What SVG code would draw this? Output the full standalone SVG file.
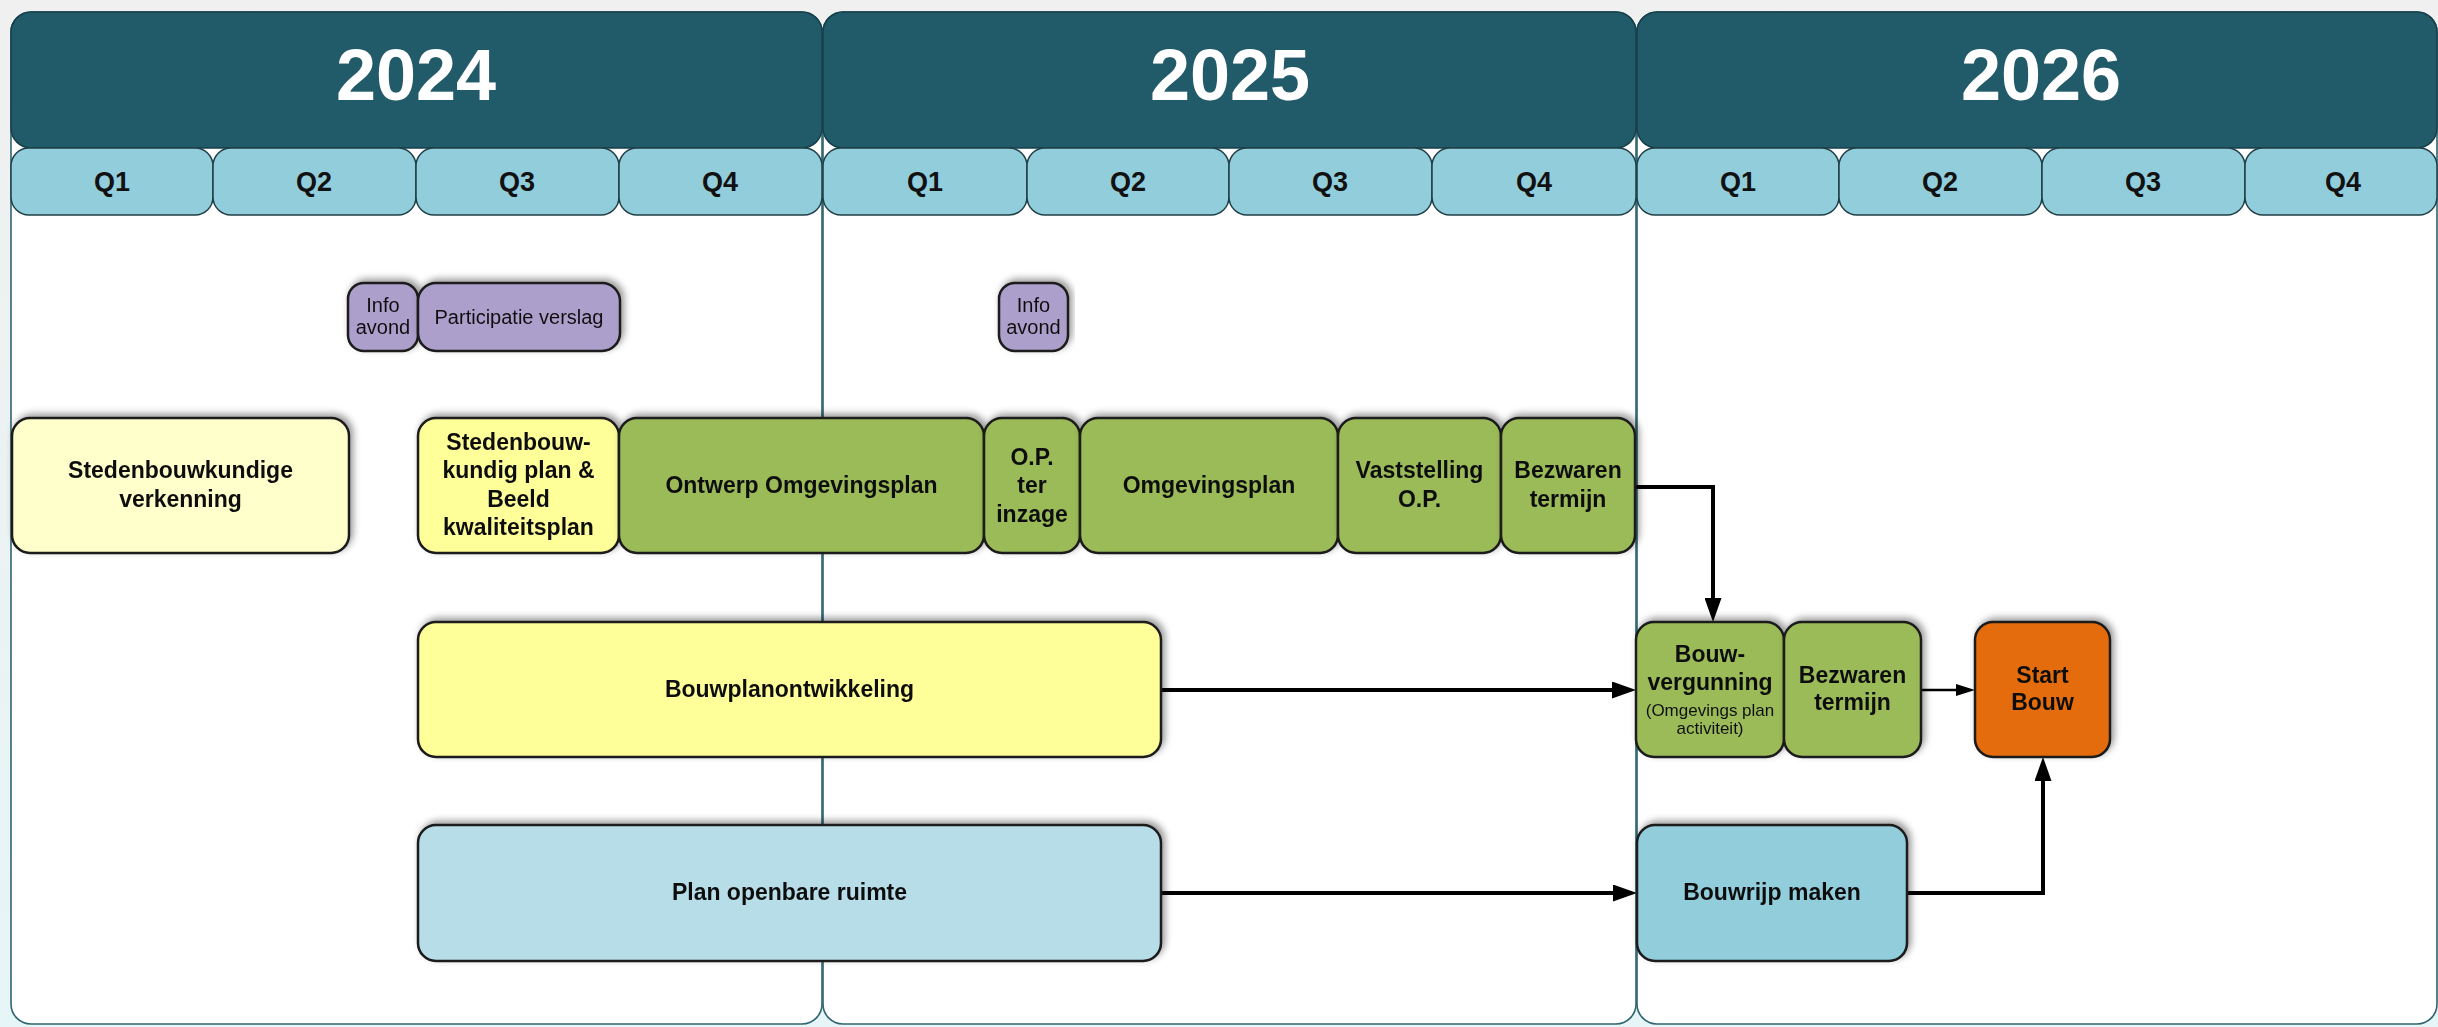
<svg xmlns="http://www.w3.org/2000/svg" width="2438" height="1027" viewBox="0 0 2438 1027">
<defs>
<linearGradient id="bg" x1="0" y1="0" x2="0" y2="1">
<stop offset="0" stop-color="#f0f0f0"/>
<stop offset="1" stop-color="#e6f5f7"/>
</linearGradient>
<filter id="sh" x="-10%" y="-20%" width="120%" height="140%">
<feDropShadow dx="3" dy="-3" stdDeviation="3.5" flood-color="#000" flood-opacity="0.4"/>
</filter>
<marker id="ah" viewBox="0 0 24 17" refX="14" refY="8.5" markerWidth="24" markerHeight="17" markerUnits="userSpaceOnUse" orient="auto">
<path d="M0,0 L24,8.5 L0,17 z" fill="#000"/>
</marker>
<marker id="ahs" viewBox="0 0 19 12" refX="11" refY="6" markerWidth="19" markerHeight="12" markerUnits="userSpaceOnUse" orient="auto">
<path d="M0,0 L19,6 L0,12 z" fill="#000"/>
</marker>
</defs>
<style>
.panel{fill:#ffffff;stroke:#2f6570;stroke-width:1.6}
.year{fill:#215a69;stroke:#163f49;stroke-width:1.5}
.yt{font-family:"Liberation Sans",Arial,sans-serif;font-weight:bold;font-size:72px;fill:#ffffff;text-anchor:middle}
.q{fill:#92cddc;stroke:#1f3f46;stroke-width:1.5}
.qt{font-family:"Liberation Sans",Arial,sans-serif;font-weight:bold;font-size:27px;fill:#111;text-anchor:middle}
.n rect{stroke:#1a1a1a;stroke-width:2.5}
.n{filter:url(#sh)}
.t{font-family:"Liberation Sans",Arial,sans-serif;font-weight:bold;font-size:23px;fill:#111;text-anchor:middle}
.tp{font-family:"Liberation Sans",Arial,sans-serif;font-size:20px;fill:#111;text-anchor:middle}
.ts{font-family:"Liberation Sans",Arial,sans-serif;font-size:17px;fill:#111;text-anchor:middle}
.purple{fill:#ad9fcb}
.green{fill:#9bbb59}
.yel1{fill:#ffffcc}
.yel2{fill:#ffff99}
.blue1{fill:#b7dde8}
.blue2{fill:#92cddc}
.orange{fill:#e46c0a}
.c{fill:none;stroke:#000;stroke-width:4}
.cs{fill:none;stroke:#000;stroke-width:2.5}
</style>
<rect x="0" y="0" width="2438" height="1027" fill="url(#bg)"/>

<g id="timeline">
<rect class="panel" x="11" y="12" width="811" height="1012" rx="20"/>
<rect class="panel" x="823" y="12" width="813" height="1012" rx="20"/>
<rect class="panel" x="1637" y="12" width="800" height="1012" rx="20"/>
<g id="y2024">
<rect class="year" x="11" y="12" width="811" height="136" rx="20"/>
<text class="yt" x="416" y="100">2024</text>
<rect class="q" x="11" y="148" width="202" height="67" rx="18"/>
<rect class="q" x="213" y="148" width="203" height="67" rx="18"/>
<rect class="q" x="416" y="148" width="203" height="67" rx="18"/>
<rect class="q" x="619" y="148" width="203" height="67" rx="18"/>
<text class="qt" x="112" y="191">Q1</text>
<text class="qt" x="314" y="191">Q2</text>
<text class="qt" x="517" y="191">Q3</text>
<text class="qt" x="720" y="191">Q4</text>
</g>
<g id="y2025">
<rect class="year" x="823" y="12" width="813" height="136" rx="20"/>
<text class="yt" x="1230" y="100">2025</text>
<rect class="q" x="823" y="148" width="204" height="67" rx="18"/>
<rect class="q" x="1027" y="148" width="202" height="67" rx="18"/>
<rect class="q" x="1229" y="148" width="203" height="67" rx="18"/>
<rect class="q" x="1432" y="148" width="204" height="67" rx="18"/>
<text class="qt" x="925" y="191">Q1</text>
<text class="qt" x="1128" y="191">Q2</text>
<text class="qt" x="1330" y="191">Q3</text>
<text class="qt" x="1534" y="191">Q4</text>
</g>
<g id="y2026">
<rect class="year" x="1637" y="12" width="800" height="136" rx="20"/>
<text class="yt" x="2041" y="100">2026</text>
<rect class="q" x="1637" y="148" width="202" height="67" rx="18"/>
<rect class="q" x="1839" y="148" width="203" height="67" rx="18"/>
<rect class="q" x="2042" y="148" width="203" height="67" rx="18"/>
<rect class="q" x="2245" y="148" width="192" height="67" rx="18"/>
<text class="qt" x="1738" y="191">Q1</text>
<text class="qt" x="1940" y="191">Q2</text>
<text class="qt" x="2143" y="191">Q3</text>
<text class="qt" x="2343" y="191">Q4</text>
</g>
</g>

<g id="connectors">
<path class="c" d="M1635 487 H1713 V612" marker-end="url(#ah)"/>
<path class="c" d="M1161 690 H1626" marker-end="url(#ah)"/>
<path class="cs" d="M1921 690 H1967" marker-end="url(#ahs)"/>
<path class="c" d="M1161 893 H1627" marker-end="url(#ah)"/>
<path class="c" d="M1907 893 H2043 V767" marker-end="url(#ah)"/>
</g>

<g id="info-avond-1" class="n">
<rect class="purple" x="348" y="283" width="70" height="68" rx="16"/>
<text class="tp" x="383" y="312">Info</text>
<text class="tp" x="383" y="334">avond</text>
</g>
<g id="participatie-verslag" class="n">
<rect class="purple" x="418" y="283" width="202" height="68" rx="18"/>
<text class="tp" x="519" y="324">Participatie verslag</text>
</g>
<g id="info-avond-2" class="n">
<rect class="purple" x="999" y="283" width="69" height="68" rx="16"/>
<text class="tp" x="1033.5" y="312">Info</text>
<text class="tp" x="1033.5" y="334">avond</text>
</g>

<g id="stedenbouwkundige-verkenning" class="n">
<rect class="yel1" x="12" y="418" width="337" height="135" rx="18"/>
<text class="t" x="180.5" y="478">Stedenbouwkundige</text>
<text class="t" x="180.5" y="507">verkenning</text>
</g>
<g id="stedenbouwkundig-plan" class="n">
<rect class="yel2" x="418" y="418" width="201" height="135" rx="18"/>
<text class="t" x="518.5" y="450">Stedenbouw-</text>
<text class="t" x="518.5" y="478">kundig plan &amp;</text>
<text class="t" x="518.5" y="507">Beeld</text>
<text class="t" x="518.5" y="535">kwaliteitsplan</text>
</g>
<g id="ontwerp-omgevingsplan" class="n">
<rect class="green" x="619" y="418" width="365" height="135" rx="18"/>
<text class="t" x="801.5" y="493">Ontwerp Omgevingsplan</text>
</g>
<g id="op-ter-inzage" class="n">
<rect class="green" x="984" y="418" width="96" height="135" rx="18"/>
<text class="t" x="1032" y="465">O.P.</text>
<text class="t" x="1032" y="493">ter</text>
<text class="t" x="1032" y="522">inzage</text>
</g>
<g id="omgevingsplan" class="n">
<rect class="green" x="1080" y="418" width="258" height="135" rx="18"/>
<text class="t" x="1209" y="493">Omgevingsplan</text>
</g>
<g id="vaststelling-op" class="n">
<rect class="green" x="1338" y="418" width="163" height="135" rx="18"/>
<text class="t" x="1419.5" y="478">Vaststelling</text>
<text class="t" x="1419.5" y="507">O.P.</text>
</g>
<g id="bezwaren-termijn-1" class="n">
<rect class="green" x="1501" y="418" width="134" height="135" rx="18"/>
<text class="t" x="1568" y="478">Bezwaren</text>
<text class="t" x="1568" y="507">termijn</text>
</g>

<g id="bouwplanontwikkeling" class="n">
<rect class="yel2" x="418" y="622" width="743" height="135" rx="18"/>
<text class="t" x="789.5" y="697">Bouwplanontwikkeling</text>
</g>
<g id="bouwvergunning" class="n">
<rect class="green" x="1636" y="622" width="148" height="135" rx="18"/>
<text class="t" x="1710" y="662">Bouw-</text>
<text class="t" x="1710" y="690">vergunning</text>
<text class="ts" x="1710" y="716">(Omgevings plan</text>
<text class="ts" x="1710" y="734">activiteit)</text>
</g>
<g id="bezwaren-termijn-2" class="n">
<rect class="green" x="1784" y="622" width="137" height="135" rx="18"/>
<text class="t" x="1852.5" y="683">Bezwaren</text>
<text class="t" x="1852.5" y="710">termijn</text>
</g>
<g id="start-bouw" class="n">
<rect class="orange" x="1975" y="622" width="135" height="135" rx="18"/>
<text class="t" x="2042.5" y="683">Start</text>
<text class="t" x="2042.5" y="710">Bouw</text>
</g>

<g id="plan-openbare-ruimte" class="n">
<rect class="blue1" x="418" y="825" width="743" height="136" rx="18"/>
<text class="t" x="789.5" y="900">Plan openbare ruimte</text>
</g>
<g id="bouwrijp-maken" class="n">
<rect class="blue2" x="1637" y="825" width="270" height="136" rx="18"/>
<text class="t" x="1772" y="900">Bouwrijp maken</text>
</g>
</svg>
